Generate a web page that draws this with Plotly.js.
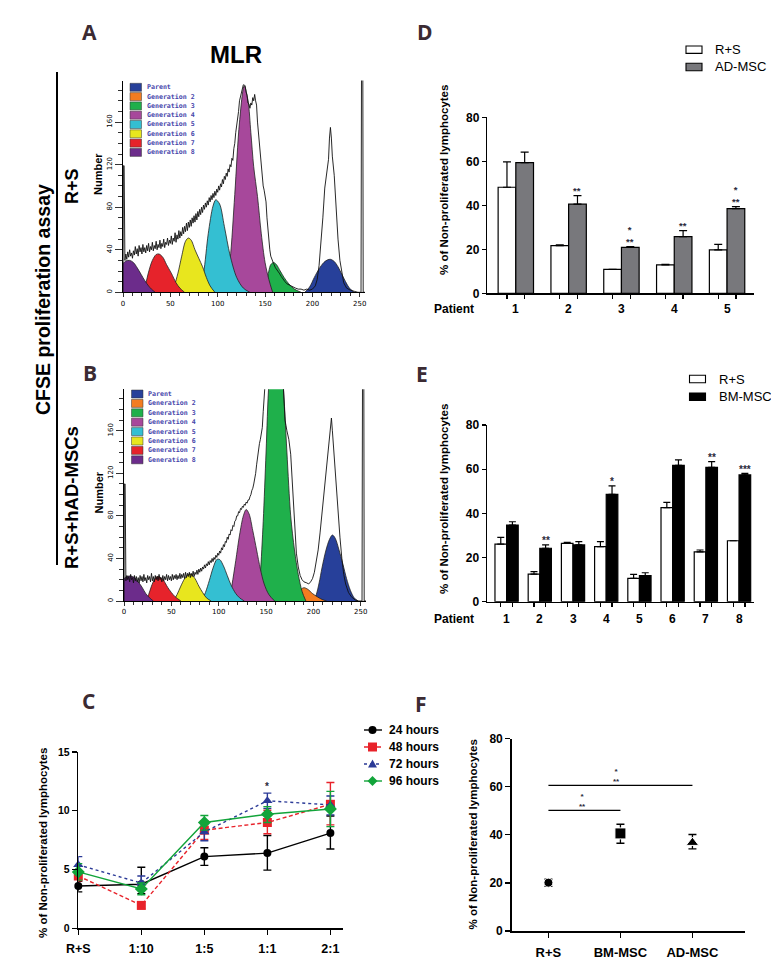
<!DOCTYPE html>
<html><head><meta charset="utf-8">
<script src="https://cdn.plot.ly/plotly-3.0.1.min.js"></script>
<style>html,body{margin:0;padding:0;background:#fff}#g{width:771px;height:963px}</style>
</head><body><div id="g"></div>
<script>
// ================= DATA =================
const genNames = ['Parent','Generation 2','Generation 3','Generation 4','Generation 5','Generation 6','Generation 7','Generation 8'];
const genColors = ['#27409a','#f27c21','#1fb04b','#a7489b','#34bfd2','#e8e61e','#e6232b','#6c2c8b'];

// Panel A (R+S) fitted generation peaks [channel, count]
const aParent = [[192,0],[197,5],[202,14],[207,22],[212,28],[216,30.5],[219,31],[223,29],[227,24],[231,17],[235,10],[239,4],[244,0]];
const aGen2 = [];
const aGen3 = [[150,0],[152,10],[154,20],[156,26],[159,28],[162,26],[166,20],[170,14],[175,8],[181,3],[188,0]];
const aGen4 = [[108,0],[113,30],[118,92],[123,160],[128,194],[132,180],[135,150],[138,118],[142,90],[146,55],[150,28],[154,12],[158,0]];
const aGen5 = [[80,0],[85,18],[90,55],[95,81],[98,87],[102,83],[107,62],[113,35],[120,14],[127,4],[134,0]];
const aGen6 = [[50,0],[54,6],[58,18],[62,34],[66,48],[69,51],[72,49],[76,40],[80,32],[84,24],[88,14],[92,6],[97,0]];
const aGen7 = [[21,0],[24,8],[27,19],[31,30],[35,35.5],[38,36],[42,33],[46,26],[51,18],[56,9],[60,4],[65,0]];
const aGen8 = [[0,27],[3,29.5],[7,30],[11,28],[15,23],[19,17],[23,11],[27,6],[30,3],[34,0]];
// Panel A measured histogram outline
const aOutline = [[0,0],[0.4,119],[1.2,119],[1.6,30],[2,30],[3,36],[4,31],[5,38],[6,33],[7,40],[8,34],[9,37],[10,32],[11,39],[12,35],[13,43],[14,36],[15,41],[16,34],[17,44],[18,38],[19,42],[20,36],[21,45],[22,38],[23,42],[24,37],[25,44],[26,39],[27,46],[28,38],[29,43],[30,40],[31,47],[32,39],[33,44],[34,41],[35,48],[36,40],[37,45],[38,42],[39,49],[40,41],[41,46],[42,43],[43,50],[44,42],[45,47],[46,45],[47,51],[48,44],[49,49],[50,46],[51,53],[52,45],[53,51],[54,48],[55,56],[56,47],[57,54],[58,50],[59,58],[60,51],[61,57],[62,53],[63,61],[64,55],[65,62],[66,57],[67,65],[68,58],[69,66],[70,61],[71,68],[72,62],[73,70],[74,65],[75,72],[76,66],[77,74],[78,68],[79,76],[80,71],[81,78],[82,73],[83,80],[84,75],[85,82],[86,78],[87,84],[88,80],[89,86],[90,82],[91,89],[92,85],[93,91],[94,87],[95,93],[96,89],[97,95],[98,91],[99,97],[100,94],[101,100],[102,96],[103,102],[104,99],[105,106],[106,102],[107,109],[108,106],[109,112],[110,109],[111,116],[112,113],[113,120],[114,118],[115,126],[116,124],[117,135],[118,140],[119,150],[120,156],[121,166],[122,170],[123,180],[124,184],[125,190],[126,191],[127,195],[128,195],[129,194],[130,188],[131,185],[132,178],[133,177],[134,173],[135,178],[136,176],[137,183],[138,180],[139,186],[140,180],[141,176],[142,160],[143,150],[144,138],[145,130],[146,115],[147,110],[148,100],[149,96],[150,90],[151,85],[152,70],[153,58],[154,45],[155,40],[156,34],[157,31],[159,27],[161,23],[163,21],[165,18],[167,15],[169,12],[171,10],[173,8],[175,7],[177,6],[179,5],[182,4],[185,3],[188,3],[191,2],[194,3],[197,2],[200,3],[203,6],[205,12],[207,25],[209,45],[211,70],[213,98],[215,112],[217,125],[218,145],[219,155],[220,145],[221,128],[223,110],[225,78],[227,50],[229,30],[231,17],[233,9],[236,4],[240,2],[244,1],[248,0],[251.3,0],[251.8,205],[253.2,205],[253.6,0],[255.5,0]];

// Panel B (R+S+hAD-MSCs)
const bParent = [[200,0],[203,6],[206,17],[209,31],[213,47],[217,58],[220,62],[223,59],[227,48],[231,35],[235,21],[239,10],[243,3],[247,0]];
const bGen2 = [[181,0],[184,6],[187,11],[190,12.5],[194,11],[199,7],[204,4],[209,1.5],[214,0]];
const bGen3 = [[142,0],[144,25],[147,75],[150,140],[153,205],[157,240],[161,245],[165,235],[168,205],[172,140],[176,80],[180,48],[184,25],[188,9],[192,0]];
const bGen4 = [[111,0],[114,15],[118,38],[122,62],[126,80],[129,86],[132,82],[136,66],[140,48],[144,30],[148,16],[153,6],[159,0]];
const bGen5 = [[82,0],[86,8],[90,19],[94,31],[98,39],[101,39],[105,33],[109,24],[113,15],[118,7],[122,3],[127,0]];
const bGen6 = [[52,0],[56,6],[60,14],[64,21],[68,25],[71,25],[75,21],[79,14],[83,8],[87,3],[92,0]];
const bGen7 = [[23,0],[26,6],[29,14],[32,20],[35,23],[38,22.5],[42,19],[46,13],[50,8],[54,4],[60,0]];
const bGen8 = [[0,21],[3,23],[7,23.5],[11,22],[15,18],[19,13],[23,7],[27,3],[31,0]];
const bOutline = [[0,0],[0.4,110],[1.2,110],[1.6,20],[2,19],[3,24],[4,20],[5,23],[6,18],[7,25],[8,20],[9,22],[10,17],[11,24],[12,19],[13,23],[14,18],[15,22],[16,17],[17,24],[18,19],[19,23],[20,18],[21,25],[22,19],[23,22],[24,17],[25,24],[26,20],[27,23],[28,18],[29,26],[30,19],[31,23],[32,18],[33,24],[34,20],[35,23],[36,19],[37,25],[38,20],[39,22],[40,18],[41,24],[42,19],[43,23],[44,20],[45,25],[46,19],[47,24],[48,20],[49,23],[50,19],[51,25],[52,20],[53,24],[54,21],[55,25],[56,20],[57,24],[58,21],[59,26],[60,21],[61,25],[62,22],[63,26],[64,21],[65,27],[66,22],[67,26],[68,23],[69,27],[70,22],[71,26],[72,23],[73,28],[74,23],[75,27],[76,25],[77,29],[78,25],[79,30],[80,27],[81,31],[82,28],[83,32],[84,30],[85,34],[86,31],[87,35],[88,33],[89,37],[90,34],[91,38],[92,36],[93,40],[94,37],[95,41],[96,39],[97,43],[98,41],[99,45],[100,43],[101,47],[102,45],[103,50],[104,48],[105,53],[106,51],[107,56],[108,55],[109,60],[110,58],[111,63],[112,62],[113,67],[114,66],[115,71],[116,70],[117,75],[118,76],[119,80],[120,80],[121,84],[122,83],[123,87],[124,86],[125,89],[126,88],[127,91],[128,90],[129,93],[130,92],[131,95],[132,95],[133,98],[134,100],[135,104],[136,106],[137,110],[138,114],[139,120],[140,128],[141,136],[142,140],[143,148],[144,152],[145,160],[146,163],[147,178],[148,190],[149,205],[168,205],[170,170],[172,160],[174,152],[176,138],[178,105],[180,70],[182,45],[184,32],[186,24],[188,20],[190,18],[193,17],[195,16],[197,18],[199,21],[201,27],[203,36],[205,48],[207,64],[209,82],[211,100],[213,118],[215,135],[217,155],[218,164],[219,172],[220,160],[222,135],[224,105],[226,80],[228,60],[230,40],[232,25],[234,16],[237,8],[240,4],[244,1],[248,0],[251.3,0],[251.8,205],[253.2,205],[253.6,0],[255.5,0]];

// Panel C
const cCats = ['R+S','1:10','1:5','1:1','2:1'];
const cNames = ['24 hours','48 hours','72 hours','96 hours'];
const c24 = [3.6, 3.75, 6.1, 6.4, 8.1];
const c24Up = [0.4, 1.45, 0.75, 1.5, 1.45];
const c24Dn = [0.5, 0.8, 0.75, 1.45, 1.35];
const c48 = [4.45, 1.95, 8.35, 9.0, 10.55];
const c48Up = [0.4, 0.3, 0.8, 1.05, 1.85];
const c48Dn = [0.4, 0.3, 0.8, 0.95, 1.75];
const c72 = [5.4, 3.85, 8.2, 10.85, 10.5];
const c72Up = [0.7, 0.6, 0.7, 0.65, 0.75];
const c72Dn = [0.7, 0.5, 0.75, 0.65, 0.85];
const c96 = [4.8, 3.35, 9.0, 9.7, 10.15];
const c96Up = [0.7, 0.5, 0.6, 0.65, 1.5];
const c96Dn = [0.7, 0.5, 0.65, 0.7, 1.5];
const cSig = ['', '', '', '*', ''];

// Panel D
const dCats = ['1','2','3','4','5'];
const dRS = [48.2, 21.7, 10.9, 12.9, 19.7];
const dRSErr = [11.5, 0.3, 0, 0.3, 2.5];
const dAD = [59.4, 40.5, 20.9, 25.8, 38.5];
const dADErr = [4.8, 3.9, 0.3, 2.7, 0.9];
const dSig = ['', '**', '*<br>**', '**', '*<br>**'];

// Panel E
const eCats = ['1','2','3','4','5','6','7','8'];
const eRS = [26.1, 12.5, 26.4, 24.9, 10.6, 42.6, 22.6, 27.6];
const eRSErr = [3.0, 1.1, 0.5, 2.3, 1.8, 2.4, 0.8, 0];
const eBM = [34.7, 24.2, 25.7, 48.6, 11.8, 61.7, 60.8, 57.4];
const eBMErr = [1.5, 1.5, 1.5, 3.8, 1.3, 2.5, 2.6, 0.7];
const eSig = ['', '**', '', '*', '', '', '**', '***'];

// Panel F
const fCats = ['R+S','BM-MSC','AD-MSC'];
const fVals = [20.1, 40.6, 36.75];
const fUp = [1.5, 3.8, 3.4];
const fDn = [1.5, 4.1, 2.6];
const fSigFrom = [0, 0];
const fSigTo = [1, 2];
const fSigY = [50.2, 60.6];
const fSigText = ['*<br>**', '*<br>**'];

// ================= STYLE / LAYOUT =================
const W = 771, H = 963;
const SANS = 'Liberation Sans, Arial, sans-serif';
const px = x => x / W, py = y => 1 - y / H;
const dX = (a, b) => [a / W, b / W];
const dY = (t, b) => [1 - b / H, 1 - t / H];
const zeros = n => new Array(n).fill(0);

const traces = [];
function addPeaks(list, xa, ya) {
  list.forEach((pts, i) => {
    if (!pts.length) return;
    traces.push({type:'scatter', mode:'lines', x:pts.map(p=>p[0]), y:pts.map(p=>p[1]), xaxis:xa, yaxis:ya,
      fill:'tozeroy', fillcolor:genColors[i], line:{color:'#222', width:0.8, shape:'spline', smoothing:0.9}, hoverinfo:'skip'});
  });
}
function addOutline(pts, xa, ya) {
  traces.push({type:'scatter', mode:'lines', x:pts.map(p=>p[0]), y:pts.map(p=>p[1]), xaxis:xa, yaxis:ya,
    line:{color:'#111', width:0.9}, hoverinfo:'skip'});
}
addPeaks([aParent,aGen2,aGen3,aGen4,aGen5,aGen6,aGen7,aGen8], 'x', 'y');
addOutline(aOutline, 'x', 'y');
addPeaks([bParent,bGen2,bGen3,bGen4,bGen5,bGen6,bGen7,bGen8], 'x2', 'y2');
addOutline(bOutline, 'x2', 'y2');

// Panel C
const cColors = ['#000000','#e8222a','#2b3a97','#12a43a'];
const cDash = ['solid','4px,2.5px','dot','solid'];
const cSym = ['circle','square','triangle-up','diamond'];
const cSize = [8, 9, 9, 10];
[[c24,c24Up,c24Dn],[c48,c48Up,c48Dn],[c72,c72Up,c72Dn],[c96,c96Up,c96Dn]].forEach((s, k) => {
  traces.push({type:'scatter', mode:'lines+markers', name:cNames[k], x:cCats.map((c,i)=>i), y:s[0], xaxis:'x3', yaxis:'y3',
    line:{color:cColors[k], width:1.4, dash:cDash[k]}, marker:{symbol:cSym[k], size:cSize[k], color:cColors[k], opacity:1},
    error_y:{type:'data', symmetric:false, array:s[1], arrayminus:s[2], color:cColors[k], thickness:1.4, width:4},
    cliponaxis:false, hoverinfo:'skip'});
});

// Panel D
const dW = 0.335;
traces.push({type:'bar', x:dCats.map((c,i)=>i), y:dRS, width:dW, offset:-dW, xaxis:'x4', yaxis:'y4',
  marker:{color:'#ffffff', line:{color:'#000', width:1.2}},
  error_y:{type:'data', symmetric:false, array:dRSErr, arrayminus:zeros(dRS.length), color:'#000', thickness:1.2, width:4}, hoverinfo:'skip'});
traces.push({type:'bar', x:dCats.map((c,i)=>i), y:dAD, width:dW, offset:0, xaxis:'x4', yaxis:'y4',
  marker:{color:'#78787c', line:{color:'#000', width:1.2}},
  error_y:{type:'data', symmetric:false, array:dADErr, arrayminus:zeros(dAD.length), color:'#000', thickness:1.2, width:4}, hoverinfo:'skip'});

// Panel E
const eW = 0.35;
traces.push({type:'bar', x:eCats.map((c,i)=>i), y:eRS, width:eW, offset:-eW, xaxis:'x5', yaxis:'y5',
  marker:{color:'#ffffff', line:{color:'#000', width:1.2}},
  error_y:{type:'data', symmetric:false, array:eRSErr, arrayminus:zeros(eRS.length), color:'#000', thickness:1.2, width:3.5}, hoverinfo:'skip'});
traces.push({type:'bar', x:eCats.map((c,i)=>i), y:eBM, width:eW, offset:0, xaxis:'x5', yaxis:'y5',
  marker:{color:'#000000', line:{color:'#000', width:1.2}},
  error_y:{type:'data', symmetric:false, array:eBMErr, arrayminus:zeros(eBM.length), color:'#000', thickness:1.2, width:3.5}, hoverinfo:'skip'});

// Panel F
fSigY.forEach((v, k) => {
  traces.push({type:'scatter', mode:'lines', x:[fSigFrom[k], fSigTo[k]], y:[v, v], xaxis:'x6', yaxis:'y6',
    line:{color:'#000', width:1.2}, hoverinfo:'skip'});
});
traces.push({type:'scatter', mode:'markers', x:fCats.map((c,i)=>i), y:fVals, xaxis:'x6', yaxis:'y6',
  marker:{symbol:['circle','square','triangle-up'], size:[9,11,11], color:'#000', opacity:1},
  error_y:{type:'data', symmetric:false, array:fUp, arrayminus:fDn, color:'#000', thickness:1.3, width:4}, hoverinfo:'skip'});

// ---- axes
const tf = (size, bold) => ({family:SANS, size, color:'#000', weight: bold ? 700 : 400});
function histX(dom, anchor) {
  return {domain:dom, anchor, range:[0,255.5], showline:true, linecolor:'#000', linewidth:1, ticks:'outside', ticklen:4,
    tickwidth:0.8, tickcolor:'#000', tick0:0, dtick:50,
    minor:{dtick:10, tick0:0, ticks:'outside', ticklen:2.5, tickwidth:0.8, tickcolor:'#000'},
    tickfont:{family:'DejaVu Sans', size:7, color:'#000'}, showgrid:false, zeroline:false, fixedrange:true};
}
function histY(dom, anchor) {
  return {domain:dom, anchor, range:[0,199], showline:true, linecolor:'#000', linewidth:1, ticks:'outside', ticklen:7,
    tickwidth:0.8, tickcolor:'#000', tick0:0, dtick:40, tickangle:-90,
    minor:{dtick:10, tick0:0, ticks:'outside', ticklen:4, tickwidth:0.8, tickcolor:'#000'},
    tickfont:{family:'DejaVu Sans', size:7, color:'#000'}, showgrid:false, zeroline:false, fixedrange:true};
}
function plainAxis(o) {
  return Object.assign({showline:true, linecolor:'#000', linewidth:1.5, ticks:'outside', ticklen:5, tickwidth:1.3,
    tickcolor:'#000', showgrid:false, zeroline:false, fixedrange:true}, o);
}
const dTicks = dCats.flatMap((c,i)=>[i-dW/2, i+dW/2]);
const eTicks = eCats.flatMap((c,i)=>[i-eW/2, i+eW/2]);

const layout = {
  width:W, height:H, margin:{l:0,r:0,t:0,b:0}, showlegend:false, paper_bgcolor:'#fff', plot_bgcolor:'rgba(0,0,0,0)',
  barmode:'overlay', font:{family:SANS, color:'#000'},
  xaxis: histX(dX(123,365), 'y'),
  yaxis: histY(dY(80.6,292.3), 'x'),
  xaxis2: histX(dX(124,366), 'y2'),
  yaxis2: histY(dY(389.3,601), 'x2'),
  xaxis3: plainAxis({domain:dX(78.3,343), anchor:'y3', range:[0,4.2], tickvals:cCats.map((c,i)=>i), ticktext:cCats, tickfont:tf(12.5,true), ticklabelstandoff:3}),
  yaxis3: plainAxis({domain:dY(752,928.3), anchor:'x3', range:[0,15], dtick:5, tickfont:tf(10.5,true)}),
  xaxis4: plainAxis({domain:dX(487.3,754), anchor:'y4', range:[-0.54,4.51], tickvals:dTicks, showticklabels:false, ticklen:4}),
  yaxis4: plainAxis({domain:dY(117.3,293.3), anchor:'x4', range:[0,80], dtick:20, tickfont:tf(12,true), ticklen:4}),
  xaxis5: plainAxis({domain:dX(487,754), anchor:'y5', range:[-0.59,7.45], tickvals:eTicks, showticklabels:false, ticklen:4}),
  yaxis5: plainAxis({domain:dY(425,601.7), anchor:'x5', range:[0,80], dtick:20, tickfont:tf(12,true), ticklen:4}),
  xaxis6: plainAxis({domain:dX(511.7,745), anchor:'y6', range:[-0.51,2.73], tickvals:fCats.map((c,i)=>i), ticktext:fCats, tickfont:tf(13,true), ticklabelstandoff:4}),
  yaxis6: plainAxis({domain:dY(738.7,931), anchor:'x6', range:[0,80], dtick:20, tickfont:tf(12,true)}),
};

// ---- annotations
const ann = [];
function note(text, x, y, o) {
  ann.push(Object.assign({xref:'paper', yref:'paper', x:px(x), y:py(y), text, showarrow:false,
    xanchor:'center', yanchor:'middle', font:{family:SANS, size:12, color:'#000'}}, o || {}));
}
const letterFont = {family:'Open Sans, Liberation Sans, sans-serif', size:21, color:'#3b2b33', weight:700};
note('A', 89.5, 32, {font:letterFont});
note('B', 90, 373, {font:letterFont});
note('C', 88.5, 701, {font:letterFont});
note('D', 424.5, 32, {font:letterFont});
note('E', 422, 374, {font:letterFont});
note('F', 421, 704, {font:letterFont});
note('MLR', 236, 54, {font:tf(24,true)});
note('CFSE proliferation assay', 43, 300, {textangle:-90, font:tf(19.5,true)});
note('R+S', 72, 186, {textangle:-90, font:tf(18,true)});
note('R+S+hAD-MSCs', 72, 498, {textangle:-90, font:tf(18.5,true)});
note('Number', 97.5, 174.5, {textangle:-90, font:tf(11,true)});
note('Number', 98.5, 492, {textangle:-90, font:tf(11,true)});
const yTitle = '% of Non-proliferated lymphocytes';
note(yTitle, 43, 843, {textangle:-90, font:tf(11.5,true)});
note(yTitle, 444, 180, {textangle:-90, font:tf(11.5,true)});
note(yTitle, 444, 499, {textangle:-90, font:tf(11.5,true)});
note(yTitle, 472.5, 835, {textangle:-90, font:tf(11.5,true)});
note('Patient', 454, 309.3, {font:tf(12,true)});
note('Patient', 454, 619, {font:tf(12,true)});

// category labels for D and E (centred on each bar pair)
dCats.forEach((c,i)=>ann.push({xref:'x4', yref:'paper', x:i, y:py(309.3), text:c, showarrow:false, yanchor:'middle', font:tf(12,true)}));
eCats.forEach((c,i)=>ann.push({xref:'x5', yref:'paper', x:i, y:py(619), text:c, showarrow:false, yanchor:'middle', font:tf(12,true)}));

// significance marks: one text per position, stacked with <br>
function sig(xref, yref, x, y, t, base, size) {
  if (!t) return;
  const lines = t.split('<br>').length;
  ann.push({xref, yref, x, y, text:t, showarrow:false, yanchor:'middle', yshift: base + (lines-1)*size*0.65,
    font:{family:SANS, size:size, color:'#2a2a3a', weight:700}});
}
dSig.forEach((t,i)=>sig('x4','y4', i+dW/2, dAD[i]+dADErr[i], t, 5, 9.5));
eSig.forEach((t,i)=>sig('x5','y5', i+eW/2, eBM[i]+eBMErr[i], t, 4, 10));
cSig.forEach((t,i)=>sig('x3','y3', i, c72[i]+c72Up[i], t, 7, 10));
fSigY.forEach((v,k)=>sig('x6','y6', (fSigFrom[k]+fSigTo[k])/2 - (k===1?0.06:0.03), v, fSigText[k], 4, 8));

// ---- shapes (frame line, legends)
const shapes = [];
shapes.push({type:'line', xref:'paper', yref:'paper', x0:px(57), x1:px(57), y0:py(72), y1:py(565), line:{color:'#000', width:2}});

// histogram legends
function genLegend(x0, top, step) {
  genNames.forEach((n, i) => {
    const yc = top + i*step;
    shapes.push({type:'rect', xref:'paper', yref:'paper', x0:px(x0), x1:px(x0+11.5), y0:py(yc-4), y1:py(yc+4),
      fillcolor:genColors[i], line:{color:'#333', width:0.5}});
    note(n, x0+14.5, yc, {xanchor:'left', font:{family:'DejaVu Sans Mono, Liberation Mono, monospace', size:6.6, color:'#4444aa', weight:700}});
  });
}
genLegend(130, 87.3, 9.3);
genLegend(131.5, 394, 9.4);

// bar legends D and E
function barLegend(x0, rows, names, fills) {
  names.forEach((n, i) => {
    shapes.push({type:'rect', xref:'paper', yref:'paper', x0:px(x0), x1:px(x0+16), y0:py(rows[i]-3.7), y1:py(rows[i]+3.7),
      fillcolor:fills[i], line:{color:'#000', width:1.1}});
    note(n, x0+27, rows[i], {xanchor:'left', font:tf(13,false)});
  });
}
barLegend(686, [49.7, 67], ['R+S','AD-MSC'], ['#ffffff','#78787c']);
barLegend(689.5, [379, 396.7], ['R+S','BM-MSC'], ['#ffffff','#000000']);

// line legend C
const cLegTop = 730, cLegStep = 17;
cNames.forEach((n, k) => {
  const yc = cLegTop + k*cLegStep, xc = 372.5;
  shapes.push({type:'line', xref:'paper', yref:'paper', x0:px(364), x1:px(382), y0:py(yc), y1:py(yc),
    line:{color:cColors[k], width:1.4, dash:cDash[k]}});
  const r = cSize[k]/2;
  if (cSym[k]==='circle') shapes.push({type:'circle', xref:'paper', yref:'paper', x0:px(xc-r), x1:px(xc+r), y0:py(yc-r), y1:py(yc+r), fillcolor:cColors[k], line:{width:0}});
  else if (cSym[k]==='square') shapes.push({type:'rect', xref:'paper', yref:'paper', x0:px(xc-r), x1:px(xc+r), y0:py(yc-r), y1:py(yc+r), fillcolor:cColors[k], line:{width:0}});
  else if (cSym[k]==='triangle-up') shapes.push({type:'path', xref:'paper', yref:'paper', path:`M${px(xc-r)},${py(yc+r*0.8)} L${px(xc+r)},${py(yc+r*0.8)} L${px(xc)},${py(yc-r)} Z`, fillcolor:cColors[k], line:{width:0}});
  else shapes.push({type:'path', xref:'paper', yref:'paper', path:`M${px(xc-r)},${py(yc)} L${px(xc)},${py(yc-r)} L${px(xc+r)},${py(yc)} L${px(xc)},${py(yc+r)} Z`, fillcolor:cColors[k], line:{width:0}});
  note(n, 387, yc, {xanchor:'left', font:tf(12,true)});
});

layout.annotations = ann;
layout.shapes = shapes;
Plotly.newPlot('g', traces, layout, {staticPlot:true, displayModeBar:false});
</script>
</body></html>
